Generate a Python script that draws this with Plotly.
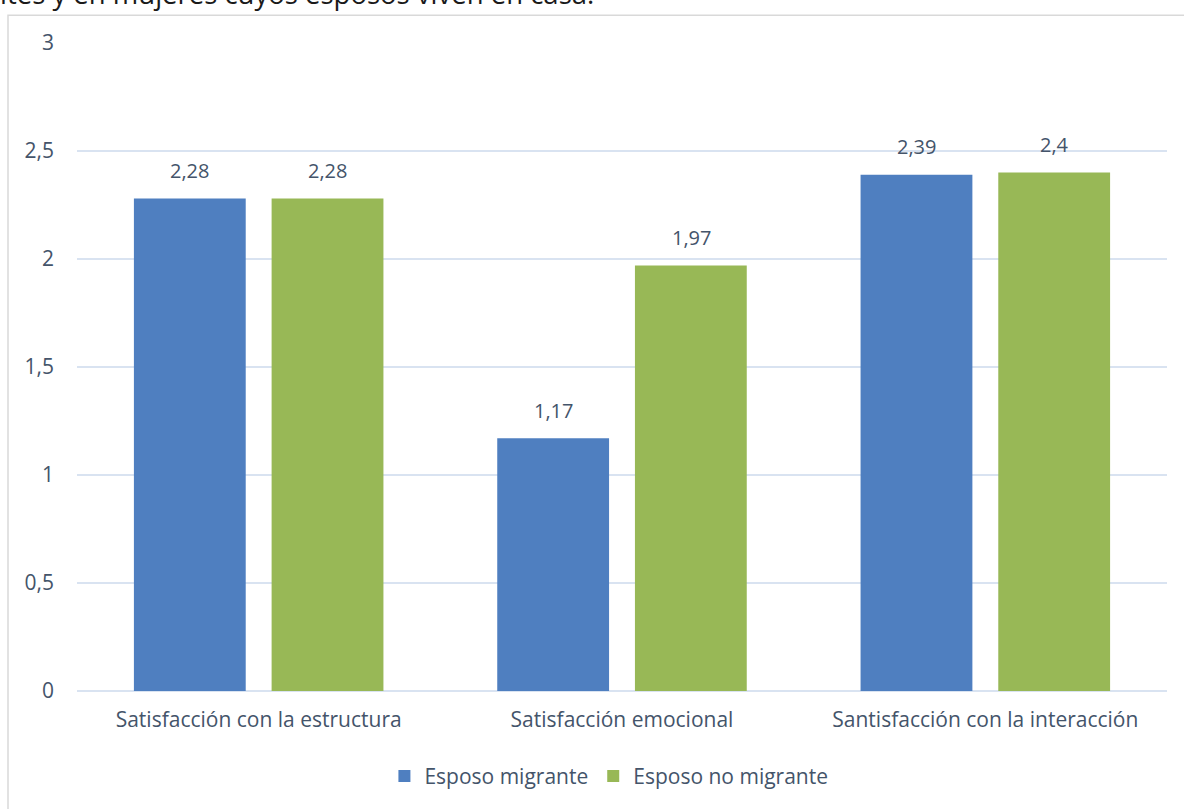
import plotly.graph_objects as go

categories = ["Satisfacción con la estructura", "Satisfacción emocional", "Santisfacción con la interacción"]
series_names = ["Esposo migrante", "Esposo no migrante"]
migrante = [2.28, 1.17, 2.39]
no_migrante = [2.28, 1.97, 2.40]
y_ticks = [0, 0.5, 1, 1.5, 2, 2.5, 3]
y_tick_labels = ["0", "0,5", "1", "1,5", "2", "2,5", "3"]
top_text = "ites y en mujeres cuyos esposos viven en casa."

FONT = "'Open Sans', Lato, sans-serif"
TXT = "#44546a"
FS = 21

fig = go.Figure()
fig.add_trace(go.Bar(x=categories, y=migrante, name=series_names[0],
                     marker=dict(color="#4f7fc0", line=dict(width=0))))
fig.add_trace(go.Bar(x=categories, y=no_migrante, name=series_names[1],
                     marker=dict(color="#98b856", line=dict(width=0))))

annotations = []
for vals, shift in ((migrante, -69), (no_migrante, 69)):
    for c, v in zip(categories, vals):
        annotations.append(dict(x=c, y=v, xref="x", yref="y", text=f"{v:g}".replace(".", ","),
                                showarrow=False, xshift=shift, yshift=28, yanchor="middle",
                                font=dict(family=FONT, size=FS - 1, color=TXT)))
annotations.append(dict(x=-0.0725, y=1.044, xref="paper", yref="paper", text=top_text,
                        showarrow=False, xanchor="left", yanchor="bottom",
                        font=dict(family=FONT, size=27.5, color="#1a1a1a")))

fig.update_layout(
    width=1184, height=809,
    margin=dict(l=77, r=17, t=43, b=113),
    paper_bgcolor="white", plot_bgcolor="white",
    barmode="group", bargap=0.242, bargroupgap=0.188,
    separators=",.",
    font=dict(family=FONT, size=FS, color=TXT),
    showlegend=True,
    legend=dict(orientation="h", x=0.488, xanchor="center", y=-0.1, yanchor="top",
                font=dict(family=FONT, size=FS, color=TXT), itemwidth=30),
    annotations=annotations,
    shapes=[dict(type="rect", xref="paper", yref="paper", x0=-0.0633, x1=1.5, y0=-0.5, y1=1.043,
                 line=dict(color="#d9d9d9", width=1.5), fillcolor="rgba(0,0,0,0)", layer="below")],
)
fig.update_yaxes(range=[0, 3], tickvals=y_ticks, ticktext=y_tick_labels,
                 showgrid=True, gridcolor="#d9e3f1", gridwidth=1.5,
                 zeroline=True, zerolinecolor="#d9e3f1", zerolinewidth=1.5,
                 showline=False, ticks="", ticklabelstandoff=22,
                 tickfont=dict(family=FONT, size=FS, color=TXT))
fig.update_xaxes(showgrid=False, showline=False, ticks="", ticklabelstandoff=14,
                 tickfont=dict(family=FONT, size=FS, color=TXT))

fig.write_html("out.html", config={"displayModeBar": False},
               post_script="document.body.style.margin='0';")
